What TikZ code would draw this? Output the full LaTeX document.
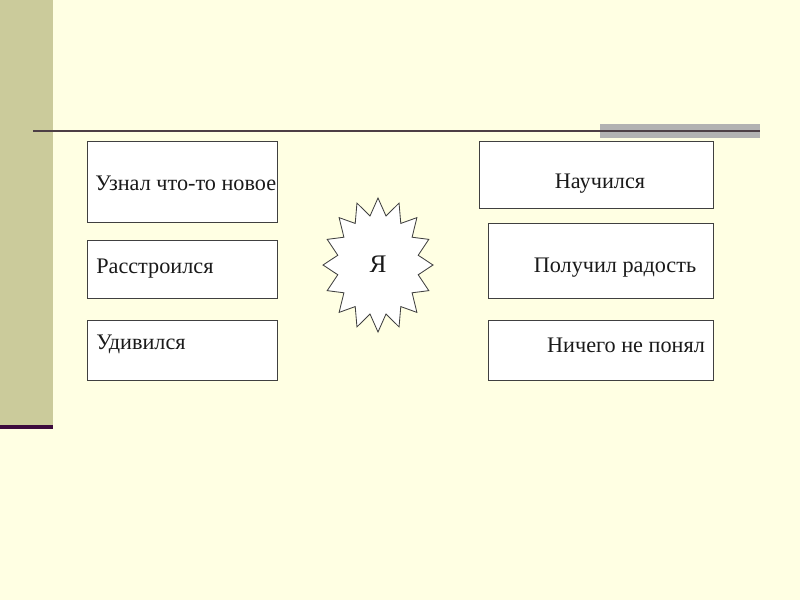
\documentclass[tikz,border=0pt]{standalone}
\usepackage{fontspec}
\setmainfont{Liberation Serif}
\usetikzlibrary{shadows}
\definecolor{paper}{HTML}{FFFFE3}
\definecolor{olivebar}{HTML}{CBCB9B}
\definecolor{plum}{HTML}{3D0B3D}
\definecolor{rulebrown}{HTML}{4D3F45}
\definecolor{greybar}{HTML}{B2B2B2}
\definecolor{darktext}{HTML}{1A1A1A}

\tikzset{
  card/.style={draw=black!75, line width=0.6pt, fill=white, inner sep=0pt,
    drop shadow={shadow xshift=0.9pt, shadow yshift=-0.9pt, fill=black!70, opacity=1}},
  word/.style={font=\fontsize{15.8}{19}\selectfont, inner sep=0pt, text=darktext}
}

\begin{document}
\begin{tikzpicture}[x=0.025cm,y=-0.025cm]
\useasboundingbox (0,0) rectangle (800,600);
\fill[paper] (0,0) rectangle (800,600);

% Left bar and rules
\fill[olivebar] (0,0) rectangle (53,425);
\fill[plum] (0,425) rectangle (53,429);
\fill[greybar] (600,124) rectangle (760,138);
\draw[rulebrown, line width=1.3pt] (33,131) -- (760,131);

% Left column
\node[card, minimum width=4.75cm, minimum height=2.025cm] (knew) at (182,181.5) {};
\node[word, anchor=west] (knewtxt) at (95,183) {Узнал что-то новое};

\node[card, minimum width=4.75cm, minimum height=1.45cm] (upset) at (182,269) {};
\node[word, anchor=west] (upsettxt) at (96,269) {Расстроился};

\node[card, minimum width=4.75cm, minimum height=1.5cm] (wonder) at (182,350) {};
\node[word, anchor=west] (wondertxt) at (96,344) {Удивился};

% Right column
\node[card, minimum width=5.85cm, minimum height=1.675cm] (learnt) at (596,174.5) {};
\node[word] (learnttxt) at (600,184) {Научился};

\node[card, minimum width=5.625cm, minimum height=1.875cm] (joy) at (600.5,260.5) {};
\node[word] (joytxt) at (615,268) {Получил радость};

\node[card, minimum width=5.625cm, minimum height=1.5cm] (lost) at (600.5,350) {};
\node[word] (losttxt) at (626,345) {Ничего не понял};

% Star in the middle
\draw[black!75, line width=0.6pt, fill=white]
  plot[samples at={0,...,31}, variable=\k]
  ({378+(isodd(\k) ? 41 : 55)*cos(90+11.25*\k)}, {265-(isodd(\k) ? 50 : 67)*sin(90+11.25*\k)}) -- cycle;
\node[font=\fontsize{18}{21}\selectfont, text=darktext] (me) at (378,264) {Я};
\end{tikzpicture}
\end{document}
